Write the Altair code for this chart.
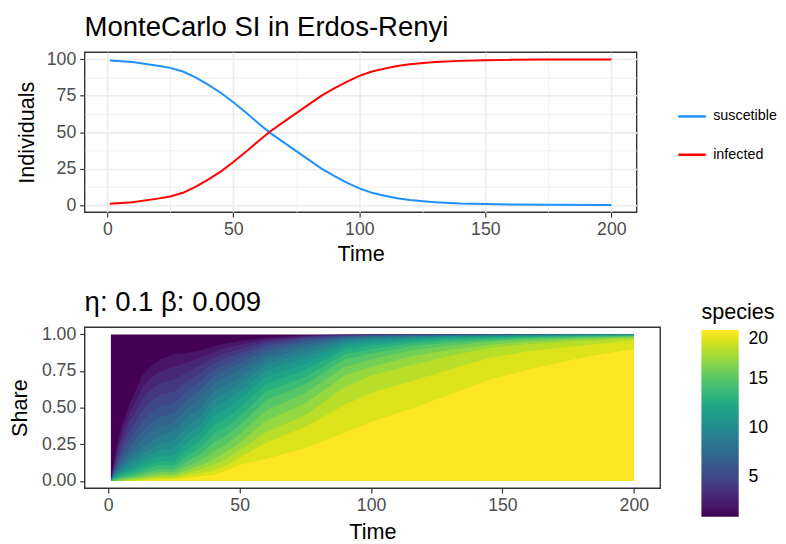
import altair as alt
import pandas as pd

FONT = "Liberation Sans"

# ---------------- top panel: SI curves ----------------
time_pts = [1, 10, 20, 25, 30, 35, 40, 45, 50, 55, 60, 65, 70, 75, 80, 85, 90, 95,
            100, 105, 110, 115, 120, 130, 140, 150, 160, 175, 200]
suscetible = [99, 98, 95.5, 94, 91.5, 87.5, 82.5, 77, 70.5, 63.5, 56, 49, 43, 37, 31, 25,
              20, 15.5, 11.5, 8.5, 6.5, 4.7, 3.5, 2, 1.2, 0.8, 0.5, 0.3, 0.2]
infected = [1, 2, 4.5, 6, 8.5, 12.5, 17.5, 23, 29.5, 36.5, 44, 51, 57, 63, 69, 75,
            80, 84.5, 88.5, 91.5, 93.5, 95.3, 96.5, 98, 98.8, 99.2, 99.5, 99.7, 99.8]
status_names = ["suscetible", "infected"]
status_colors = ["#1E90FF", "#FF0000"]

# ---------------- bottom panel: species shares ----------------
share_times = [1, 2, 3, 5, 8, 10, 13, 16, 20, 25, 30, 35, 40, 45, 50, 60, 75, 90,
               100, 115, 130, 145, 160, 180, 200]
# upper edge of species 2..20 (cumulative share of species >= k), one row per time
upper_edges = [
    [0, 0, 0, 0, 0, 0, 0, 0, 0, 0, 0, 0, 0, 0, 0, 0, 0, 0, 0],
    [0.12, 0.10, 0.08, 0.07, 0.06, 0.05, 0.04, 0.035, 0.03, 0.025, 0.02, 0.015, 0.01, 0.005, 0, 0, 0, 0, 0],
    [0.22, 0.18, 0.15, 0.12, 0.10, 0.085, 0.07, 0.06, 0.05, 0.04, 0.032, 0.025, 0.018, 0.012, 0.006, 0.002, 0, 0, 0],
    [0.37, 0.32, 0.27, 0.22, 0.18, 0.15, 0.12, 0.10, 0.08, 0.065, 0.05, 0.038, 0.028, 0.02, 0.012, 0.006, 0.002, 0, 0],
    [0.52, 0.46, 0.40, 0.34, 0.28, 0.23, 0.19, 0.155, 0.125, 0.10, 0.08, 0.062, 0.047, 0.034, 0.023, 0.014, 0.007, 0.002, 0],
    [0.60, 0.53, 0.46, 0.39, 0.33, 0.27, 0.22, 0.18, 0.145, 0.115, 0.09, 0.07, 0.053, 0.039, 0.027, 0.017, 0.009, 0.004, 0],
    [0.72, 0.64, 0.56, 0.48, 0.41, 0.34, 0.28, 0.23, 0.185, 0.15, 0.12, 0.095, 0.073, 0.054, 0.038, 0.025, 0.015, 0.008, 0.002],
    [0.78, 0.70, 0.62, 0.54, 0.46, 0.39, 0.33, 0.27, 0.22, 0.18, 0.145, 0.115, 0.09, 0.068, 0.05, 0.035, 0.023, 0.014, 0.006],
    [0.83, 0.75, 0.67, 0.59, 0.51, 0.44, 0.37, 0.31, 0.255, 0.21, 0.17, 0.135, 0.105, 0.08, 0.06, 0.043, 0.029, 0.018, 0.009],
    [0.865, 0.78, 0.69, 0.61, 0.53, 0.46, 0.40, 0.34, 0.28, 0.225, 0.175, 0.135, 0.105, 0.08, 0.06, 0.044, 0.031, 0.02, 0.01],
    [0.875, 0.81, 0.745, 0.68, 0.615, 0.555, 0.495, 0.435, 0.375, 0.32, 0.265, 0.215, 0.17, 0.135, 0.10, 0.076, 0.055, 0.037, 0.02],
    [0.89, 0.84, 0.79, 0.735, 0.68, 0.62, 0.56, 0.50, 0.44, 0.385, 0.33, 0.275, 0.225, 0.18, 0.14, 0.105, 0.078, 0.052, 0.03],
    [0.92, 0.88, 0.84, 0.80, 0.76, 0.71, 0.66, 0.61, 0.55, 0.495, 0.44, 0.38, 0.32, 0.26, 0.20, 0.15, 0.11, 0.07, 0.04],
    [0.94, 0.91, 0.875, 0.84, 0.80, 0.76, 0.71, 0.66, 0.61, 0.55, 0.49, 0.43, 0.37, 0.31, 0.25, 0.20, 0.15, 0.105, 0.07],
    [0.955, 0.93, 0.90, 0.87, 0.84, 0.80, 0.76, 0.71, 0.66, 0.61, 0.56, 0.50, 0.44, 0.38, 0.32, 0.26, 0.21, 0.16, 0.11],
    [0.977, 0.966, 0.952, 0.935, 0.915, 0.89, 0.86, 0.83, 0.795, 0.755, 0.71, 0.66, 0.61, 0.55, 0.48, 0.41, 0.33, 0.26, 0.15],
    [0.995, 0.99, 0.985, 0.977, 0.965, 0.95, 0.93, 0.905, 0.875, 0.84, 0.80, 0.76, 0.71, 0.66, 0.60, 0.53, 0.45, 0.37, 0.225],
    [0.999, 0.998, 0.996, 0.993, 0.99, 0.984, 0.977, 0.967, 0.955, 0.94, 0.92, 0.895, 0.865, 0.83, 0.78, 0.72, 0.64, 0.52, 0.33],
    [1.0, 0.999, 0.998, 0.996, 0.994, 0.99, 0.986, 0.98, 0.972, 0.96, 0.945, 0.925, 0.90, 0.87, 0.83, 0.78, 0.72, 0.60, 0.40],
    [1.0, 1.0, 0.999, 0.998, 0.997, 0.995, 0.992, 0.988, 0.983, 0.976, 0.967, 0.955, 0.94, 0.92, 0.89, 0.85, 0.79, 0.68, 0.49],
    [1.0, 1.0, 1.0, 0.999, 0.998, 0.997, 0.995, 0.993, 0.99, 0.986, 0.98, 0.972, 0.96, 0.945, 0.925, 0.895, 0.855, 0.76, 0.59],
    [1.0, 1.0, 1.0, 1.0, 0.999, 0.998, 0.997, 0.995, 0.993, 0.99, 0.985, 0.98, 0.97, 0.96, 0.95, 0.93, 0.908, 0.84, 0.69],
    [1.0, 1.0, 1.0, 1.0, 1.0, 0.999, 0.998, 0.997, 0.995, 0.993, 0.99, 0.986, 0.981, 0.974, 0.965, 0.952, 0.935, 0.885, 0.76],
    [1.0, 1.0, 1.0, 1.0, 1.0, 1.0, 0.999, 0.998, 0.997, 0.996, 0.994, 0.991, 0.987, 0.982, 0.976, 0.968, 0.956, 0.925, 0.84],
    [1.0, 1.0, 1.0, 1.0, 1.0, 1.0, 1.0, 0.999, 0.999, 0.998, 0.997, 0.995, 0.993, 0.99, 0.986, 0.98, 0.972, 0.96, 0.90],
]
species_ids = list(range(1, 21))

# ---------------- tables ----------------
top_df = pd.DataFrame({
    "Time": time_pts + time_pts,
    "Individuals": suscetible + infected,
    "status": [status_names[0]] * len(time_pts) + [status_names[1]] * len(time_pts),
})

rows = []
for sp in species_ids:
    for i, t in enumerate(share_times):
        edges = [1.0] + upper_edges[i]
        rows.append({"Time": t, "species": sp, "top": edges[sp - 1]})
share_df = pd.DataFrame(rows)

major_x = "datum.value % 50 == 0"
major_y = "datum.value % 25 == 0"

top = alt.Chart(
    top_df, title=alt.TitleParams("MonteCarlo SI in Erdos-Renyi", frame="group", offset=9)
).mark_line(strokeWidth=2).encode(
    x=alt.X("Time:Q",
            scale=alt.Scale(domain=[-9, 210], nice=False, zero=False),
            axis=alt.Axis(values=[0, 25, 50, 75, 100, 125, 150, 175, 200],
                          labelExpr=f"{major_x} ? datum.label : ''",
                          gridWidth={"condition": {"test": major_x, "value": 1.6}, "value": 0.8},
                          tickOpacity={"condition": {"test": major_x, "value": 1}, "value": 0},
                          title="Time")),
    y=alt.Y("Individuals:Q",
            scale=alt.Scale(domain=[-4.8, 104.8], nice=False, zero=False),
            axis=alt.Axis(values=[0, 12.5, 25, 37.5, 50, 62.5, 75, 87.5, 100],
                          labelExpr=f"{major_y} ? datum.label : ''",
                          gridWidth={"condition": {"test": major_y, "value": 1.6}, "value": 0.8},
                          tickOpacity={"condition": {"test": major_y, "value": 1}, "value": 0},
                          title="Individuals")),
    color=alt.Color("status:N",
                    scale=alt.Scale(domain=status_names, range=status_colors),
                    legend=alt.Legend(title=None, orient="none", legendX=603, legendY=50,
                                      symbolType="stroke", symbolSize=784,
                                      symbolStrokeWidth=2.5, labelFontSize=14.6,
                                      labelColor="black", labelOffset=6, rowPadding=16)),
).properties(width=562, height=163)

bottom = alt.Chart(
    share_df, title=alt.TitleParams("η: 0.1 β: 0.009", frame="group", offset=-15)
).mark_area(interpolate="linear").encode(
    x=alt.X("Time:Q",
            scale=alt.Scale(domain=[-9, 210], nice=False, zero=False),
            axis=alt.Axis(values=[0, 50, 100, 150, 200], grid=False, title="Time",
                          titlePadding=7)),
    y=alt.Y("top:Q", stack=None,
            scale=alt.Scale(domain=[-0.05, 1.05], nice=False, zero=False),
            axis=alt.Axis(values=[0, 0.25, 0.5, 0.75, 1.0], format=".2f", grid=False,
                          title="Share", titlePadding=10)),
    y2=alt.Y2Datum(0),
    color=alt.Color("species:Q",
                    scale=alt.Scale(scheme="viridis", domain=[1, 20]),
                    legend=alt.Legend(title="species", orient="none", legendX=628, legendY=-25,
                                      direction="vertical", gradientLength=190,
                                      gradientThickness=38, gradientStrokeWidth=0,
                                      values=[5, 10, 15, 20], labelFontSize=18,
                                      labelColor="black", labelOffset=10,
                                      labelBaseline="middle",
                                      titleFontSize=22, titleFontWeight="normal",
                                      titleColor="black", titlePadding=6)),
    order=alt.Order("species:Q", sort="ascending"),
).properties(width=586, height=164)

chart = alt.concat(top, bottom, columns=1, spacing=24, align="none").resolve_scale(
    x="independent", y="independent", color="independent"
).configure(
    font=FONT, padding={"left": 0, "top": 0, "right": 0, "bottom": 0}
).configure_view(
    stroke="#333333", strokeWidth=1.4
).configure_axis(
    domain=False, tickColor="#333333", tickSize=5, tickWidth=1.2,
    labelColor="#4D4D4D", labelFontSize=18, labelFont=FONT,
    titleColor="black", titleFontSize=22, titleFontWeight="normal", titleFont=FONT,
    gridColor="#EBEBEB"
).configure_axisX(
    labelPadding=4, titlePadding=5
).configure_axisY(
    labelPadding=4, titlePadding=8
).configure_title(
    fontSize=28, fontWeight="normal", anchor="start", color="black", font=FONT
).configure_legend(
    labelFont=FONT, titleFont=FONT
)

chart.save("out.html", embed_options={"renderer": "svg", "actions": False})
